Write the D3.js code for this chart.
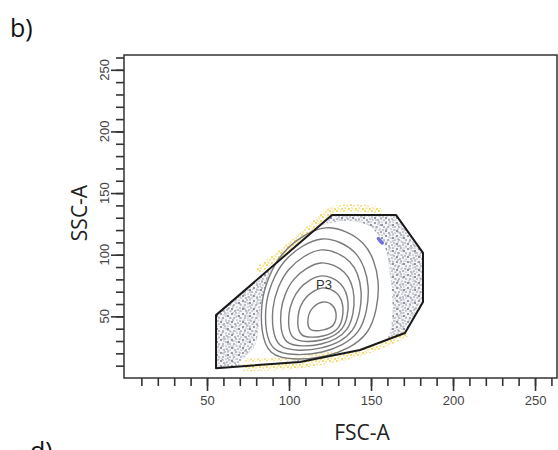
<!DOCTYPE html>
<html>
<head>
<meta charset="utf-8">
<script src="https://cdn.jsdelivr.net/npm/d3@7"></script>
<style>
  body { margin: 0; background: #fff; }
  svg { display: block; }
</style>
</head>
<body>
<svg id="vis" width="558" height="450"></svg>
<script>
// axis ticks
const xMajor = [50, 100, 150, 200, 250];
const yMajor = [50, 100, 150, 200, 250];
const minorTicks = [10, 20, 30, 40, 50, 60, 70, 80, 90, 100, 110, 120, 130,
    140, 150, 160, 170, 180, 190, 200, 210, 220, 230, 240, 250, 260];

// gate P3 (FSC-A, SSC-A)
const gateP3 = [[55.5, 51], [55.5, 8], [106.7, 13], [143.3, 22.7], [170.7, 36.5],
    [181.7, 61.7], [181.7, 101.5], [165.2, 132.3], [126.2, 132.3]];

// empty area around the contours (no dots drawn there)
const contourArea = [[70.1, 11.4], [79.3, 26.8], [83.5, 63.3], [91.5, 94.2], [106.7, 115.3],
    [128, 126.6], [146.3, 125], [156.7, 112], [161.6, 83.6], [162.8, 47.1],
    [158.5, 30.8], [137.2, 21.1], [106.7, 14.6]];

// density contours, inner to outer
const contours = [
    [[121.0, 61.7], [126.5, 58.9], [128.7, 52.1], [127.0, 43.0], [121.0, 39.0], [112.9, 39.6], [111.6, 48.1], [114.6, 57.1]],
    [[120.6, 73.1], [129.4, 68.3], [132.9, 56.7], [130.2, 41.1], [120.6, 34.1], [107.7, 35.2], [105.5, 49.7], [110.4, 65.3]],
    [[119.8, 82.8], [131.3, 76.5], [136.0, 61.0], [132.4, 40.2], [119.8, 30.8], [102.9, 32.4], [100.0, 51.6], [106.5, 72.4]],
    [[119.6, 93.3], [133.8, 85.5], [139.6, 65.7], [135.2, 39.4], [119.6, 27.6], [98.7, 29.5], [95.1, 53.9], [103.1, 80.2]],
    [[119.8, 103.9], [137.0, 94.3], [143.9, 70.5], [138.5, 38.6], [119.8, 24.4], [94.5, 26.7], [90.2, 56.2], [99.9, 88.0]],
    [[120.2, 112.8], [140.1, 101.8], [148.2, 74.3], [142.0, 37.6], [120.2, 21.1], [91.0, 23.9], [86.0, 57.8], [97.2, 94.5]],
    [[122.4, 121.8], [145.1, 109.3], [154.3, 78.1], [147.2, 36.5], [122.4, 17.9], [89.2, 20.9], [83.5, 59.4], [96.3, 101.0]]
];

// yellow outlier events along the gate border
const yellowTop = [[80.5, 86.5], [106.7, 113.6], [126.8, 136.2], [149.4, 137.0], [156.5, 134.7]];
const yellowBottom = [[72.1, 8.3], [106.7, 10.7], [143.3, 20.5], [167.7, 33.5], [171.6, 36.5]];
const yellowInner = [[73.2, 14.6], [106.7, 16.2], [134.1, 22.7]];
const blueMark = [[154.5, 113], [156.8, 109.5]];

const gateLabel = { name: "P3", x: 121.3, y: 72 };

function draw() {
    let svg = d3.select("#vis");

    let x = d3.scaleLinear().domain([0, 263.4]).range([125, 557]);
    let y = d3.scaleLinear().domain([0, 262]).range([378, 55]);

    let defs = svg.append("defs");

    // stipple pattern for the scattered events
    let p1 = defs.append("pattern").attr("id", "dots1")
        .attr("patternUnits", "userSpaceOnUse").attr("width", 11).attr("height", 13);
    p1.append("rect").attr("width", 11).attr("height", 13).attr("fill", "#f5f5f7");
    [[1, 2, 0.9], [5, 1, 0.7], [8, 4, 1.0], [3, 6, 0.8], [9, 9, 0.7], [1, 10, 1.0],
     [6, 8, 0.6], [4, 12, 0.8], [10, 12, 0.6], [7, 11, 0.7], [2, 8, 0.6], [6, 4, 0.6],
     [10, 6, 0.7], [4, 3, 0.5], [8, 1, 0.5]].forEach(d => {
        p1.append("circle").attr("cx", d[0]).attr("cy", d[1]).attr("r", d[2]).attr("fill", "#6e7384");
    });
    let p2 = defs.append("pattern").attr("id", "dots2")
        .attr("patternUnits", "userSpaceOnUse").attr("width", 17).attr("height", 7);
    [[2, 3, 0.7], [7, 1, 0.8], [12, 5, 0.7], [15, 2, 0.6], [10, 3, 0.6], [5, 6, 0.6]].forEach(d => {
        p2.append("circle").attr("cx", d[0]).attr("cy", d[1]).attr("r", d[2]).attr("fill", "#8a8fa0");
    });
    let py = defs.append("pattern").attr("id", "ydots")
        .attr("patternUnits", "userSpaceOnUse").attr("width", 7).attr("height", 6);
    [[1, 1, 0.9], [4, 2, 0.8], [6, 5, 0.9], [2, 4, 0.7], [5, 0, 0.6], [3, 5, 0.5]].forEach(d => {
        py.append("circle").attr("cx", d[0]).attr("cy", d[1]).attr("r", d[2]).attr("fill", "#f2c418");
    });

    let line = d3.line().x(d => x(d[0])).y(d => y(d[1]));
    let closed = d3.line().x(d => x(d[0])).y(d => y(d[1])).curve(d3.curveCatmullRomClosed);
    let open = d3.line().x(d => x(d[0])).y(d => y(d[1])).curve(d3.curveCatmullRom);

    // events inside the gate
    svg.append("path").attr("d", line(gateP3) + "Z").attr("fill", "url(#dots1)");
    svg.append("path").attr("d", line(gateP3) + "Z").attr("fill", "url(#dots2)");
    svg.append("path").attr("d", closed(contourArea)).attr("fill", "#fff");

    // yellow outliers
    [yellowTop, yellowBottom].forEach(seg => {
        svg.append("path").attr("d", open(seg)).attr("fill", "none")
            .attr("stroke", "url(#ydots)").attr("stroke-width", 7).attr("opacity", 0.9);
    });
    svg.append("path").attr("d", open(yellowInner)).attr("fill", "none")
        .attr("stroke", "url(#ydots)").attr("stroke-width", 3).attr("opacity", 0.8);

    // contour rings
    svg.selectAll(".ring").data(contours).enter().append("path")
        .attr("class", "ring")
        .attr("d", d => closed(d))
        .attr("fill", "none")
        .attr("stroke", "#7a7a7a")
        .attr("stroke-width", 1.4);

    svg.append("path").attr("d", open(blueMark)).attr("fill", "none")
        .attr("stroke", "#4a4ed8").attr("stroke-width", 3.5).attr("stroke-linecap", "round")
        .attr("opacity", 0.8);

    // gate outline
    svg.append("path").attr("d", line(gateP3) + "Z")
        .attr("fill", "none").attr("stroke", "#1a1a1a").attr("stroke-width", 2)
        .attr("stroke-linejoin", "round");

    svg.append("text").attr("x", x(gateLabel.x)).attr("y", y(gateLabel.y))
        .attr("text-anchor", "middle")
        .style("font-family", "Liberation Sans, Arial, sans-serif").style("font-size", "13px")
        .attr("fill", "#333").text(gateLabel.name);

    // frame
    svg.append("rect").attr("x", 124).attr("y", 55).attr("width", 433).attr("height", 323)
        .attr("fill", "none").attr("stroke", "#333").attr("stroke-width", 1.5);

    // axes
    let xMinorAxis = svg.append("g").attr("transform", "translate(0,378)")
        .call(d3.axisBottom(x).tickValues(minorTicks).tickSize(8).tickFormat(""));
    let xMajorAxis = svg.append("g").attr("transform", "translate(0,378)")
        .call(d3.axisBottom(x).tickValues(xMajor).tickSize(13).tickPadding(5));
    let yMinorAxis = svg.append("g").attr("transform", "translate(124,0)")
        .call(d3.axisLeft(y).tickValues(minorTicks).tickSize(8).tickFormat(""));
    let yMajorAxis = svg.append("g").attr("transform", "translate(124,0)")
        .call(d3.axisLeft(y).tickValues(yMajor).tickSize(13).tickFormat(""));

    [xMinorAxis, xMajorAxis, yMinorAxis, yMajorAxis].forEach(a => {
        a.select(".domain").remove();
        a.selectAll("line").attr("stroke", "#333").attr("stroke-width", 1.6);
    });
    xMajorAxis.selectAll("text")
        .style("font-family", "Liberation Sans, Arial, sans-serif").style("font-size", "13px")
        .attr("fill", "#444");

    svg.selectAll(".ylab").data(yMajor).enter().append("text")
        .attr("class", "ylab")
        .attr("transform", d => `translate(109,${y(d)}) rotate(-90)`)
        .attr("text-anchor", "middle")
        .style("font-family", "Liberation Sans, Arial, sans-serif").style("font-size", "13px")
        .attr("fill", "#444")
        .text(d => d);

    // titles
    svg.append("text").attr("transform", "translate(87,213) rotate(-90)")
        .attr("text-anchor", "middle")
        .style("font-family", "Open Sans, sans-serif").style("font-size", "21px")
        .attr("fill", "#222").text("SSC-A");
    svg.append("text").attr("x", 362).attr("y", 440)
        .attr("text-anchor", "middle")
        .style("font-family", "Open Sans, sans-serif").style("font-size", "21px")
        .attr("fill", "#222").text("FSC-A");

    svg.append("text").attr("x", 10).attr("y", 37)
        .style("font-family", "Open Sans, sans-serif").style("font-size", "25px")
        .attr("fill", "#111").text("b)");
    svg.append("text").attr("x", 30).attr("y", 460)
        .style("font-family", "Open Sans, sans-serif").style("font-size", "25px")
        .attr("fill", "#111").text("d)");
}

document.addEventListener("DOMContentLoaded", () => {
    draw();
});
</script>
</body>
</html>
